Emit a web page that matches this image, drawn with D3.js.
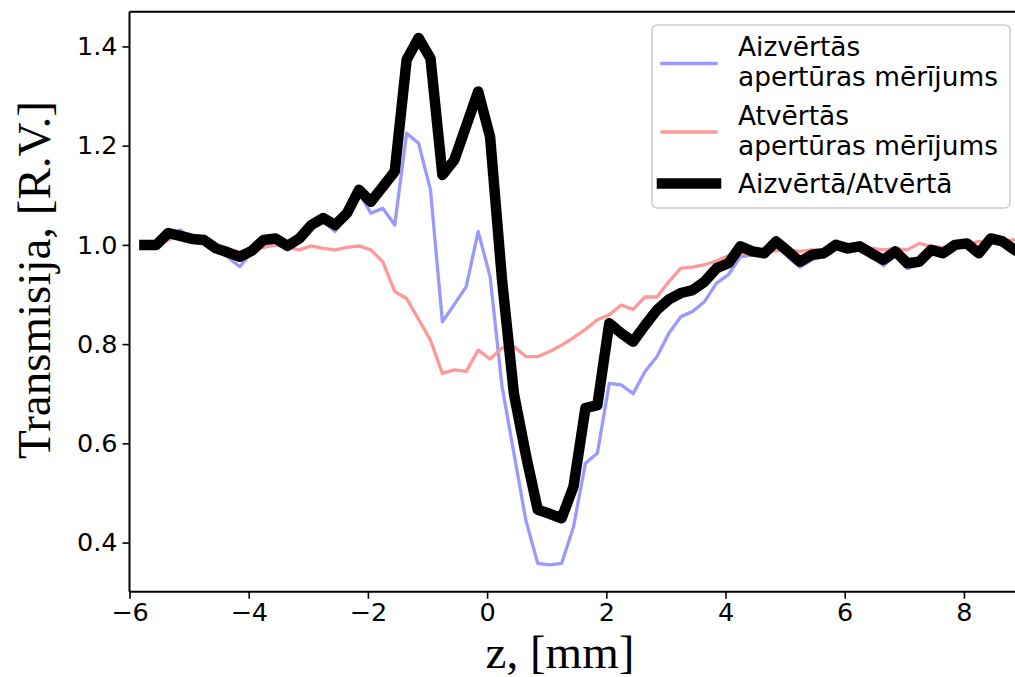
<!DOCTYPE html>
<html>
<head>
<meta charset="utf-8">
<script src="https://cdn.jsdelivr.net/npm/d3@7"></script>
<style>
  body { margin: 0; background: #fff; }
  svg { display: block; }
</style>
</head>
<body>
<svg id="chart" width="1015" height="677"></svg>
<script>
// z positions, mm
const zValues = [
  -5.75, -5.55, -5.35, -5.15, -4.95, -4.75, -4.55, -4.35, -4.15, -3.95,
  -3.75, -3.55, -3.35, -3.15, -2.95, -2.75, -2.55, -2.35, -2.15, -1.95,
  -1.75, -1.55, -1.35, -1.15, -0.95, -0.75, -0.55, -0.35, -0.15, 0.05,
  0.25, 0.45, 0.65, 0.85, 1.05, 1.25, 1.45, 1.65, 1.85, 2.05,
  2.25, 2.45, 2.65, 2.85, 3.05, 3.25, 3.45, 3.65, 3.85, 4.05,
  4.25, 4.45, 4.65, 4.85, 5.05, 5.25, 5.45, 5.65, 5.85, 6.05,
  6.25, 6.45, 6.65, 6.85, 7.05, 7.25, 7.45, 7.65, 7.85, 8.05,
  8.25, 8.45, 8.65, 8.85, 9.05
];

// closed aperture
const closedValues = [
  1.000, 1.000, 1.020, 1.030, 1.012, 1.008, 0.990, 0.975, 0.956, 0.985,
  1.008, 1.010, 0.995, 1.010, 1.035, 1.048, 1.027, 1.060, 1.105, 1.064,
  1.074, 1.040, 1.225, 1.205, 1.111, 0.845, 0.880, 0.916, 1.027, 0.936,
  0.715, 0.580, 0.445, 0.358, 0.355, 0.358, 0.432, 0.560, 0.580, 0.721,
  0.718, 0.700, 0.745, 0.775, 0.822, 0.855, 0.866, 0.886, 0.923, 0.940,
  0.976, 0.980, 0.980, 1.003, 0.975, 0.955, 0.970, 0.978, 0.995, 0.985,
  0.990, 0.978, 0.958, 0.980, 0.952, 0.960, 0.985, 0.978, 0.995, 1.000,
  0.980, 1.010, 1.005, 0.990, 0.975
];

// open aperture
const openValues = [
  1.000, 0.998, 1.010, 1.020, 1.010, 1.005, 0.995, 0.990, 0.986, 0.990,
  0.995, 1.000, 0.995, 0.990, 0.998, 0.993, 0.990, 0.995, 0.998, 0.990,
  0.966, 0.906, 0.892, 0.850, 0.808, 0.741, 0.748, 0.745, 0.788, 0.770,
  0.792, 0.795, 0.775, 0.775, 0.785, 0.798, 0.813, 0.830, 0.849, 0.859,
  0.879, 0.870, 0.895, 0.895, 0.926, 0.953, 0.955, 0.960, 0.968, 0.978,
  0.982, 0.985, 0.987, 0.988, 0.990, 0.987, 0.990, 0.990, 0.997, 0.995,
  0.996, 0.993, 0.990, 0.993, 0.990, 1.003, 0.997, 0.995, 0.998, 1.000,
  1.007, 1.003, 1.008, 1.010, 1.010
];

// closed / open ratio
const ratioValues = [
  1.000, 1.000, 1.024, 1.018, 1.012, 1.010, 0.993, 0.985, 0.976, 0.988,
  1.010, 1.013, 0.998, 1.013, 1.040, 1.054, 1.040, 1.064, 1.111, 1.087,
  1.117, 1.148, 1.373, 1.417, 1.376, 1.141, 1.171, 1.240, 1.309, 1.218,
  0.930, 0.700, 0.577, 0.466, 0.458, 0.449, 0.513, 0.671, 0.677, 0.842,
  0.822, 0.805, 0.838, 0.869, 0.890, 0.903, 0.909, 0.926, 0.953, 0.963,
  0.997, 0.987, 0.983, 1.007, 0.987, 0.966, 0.980, 0.983, 1.000, 0.993,
  0.997, 0.983, 0.970, 0.987, 0.963, 0.966, 0.990, 0.983, 1.000, 1.003,
  0.983, 1.013, 1.007, 0.990, 0.975
];

const xTicks = [-6, -4, -2, 0, 2, 4, 6, 8];
const yTicks = [0.4, 0.6, 0.8, 1.0, 1.2, 1.4];

const legendLabels = [
  ["Aizvērtās", "apertūras mērījums"],
  ["Atvērtās", "apertūras mērījums"],
  ["Aizvērtā/Atvērtā"]
];

const svg = d3.select("#chart");

const plotLeft = 129.5, plotTop = 11.7, plotRight = 1023.5, plotBottom = 591.7;

const x = d3.scaleLinear().domain([-6, 9]).range([plotLeft, plotRight]);
const y = d3.scaleLinear().domain([0.301, 1.47]).range([plotBottom, plotTop]);

const fmtMinus = d => (d < 0 ? "\u2212" + Math.abs(d) : String(d));

svg.append("defs").append("clipPath").attr("id", "plotclip")
  .append("rect")
  .attr("x", plotLeft).attr("y", plotTop)
  .attr("width", plotRight - plotLeft).attr("height", plotBottom - plotTop);

const series = [
  { values: closedValues, color: "#9999ff", width: 3.3, cap: "square" },
  { values: openValues, color: "#ff9999", width: 3.3, cap: "square" },
  { values: ratioValues, color: "#000000", width: 10.5, cap: "square" }
];

const line = d3.line()
  .x(d => x(d[0]))
  .y(d => y(d[1]));

const plot = svg.append("g").attr("clip-path", "url(#plotclip)");

series.forEach(s => {
  plot.append("path")
    .datum(zValues.map((z, i) => [z, s.values[i]]))
    .attr("fill", "none")
    .attr("stroke", s.color)
    .attr("stroke-width", s.width)
    .attr("stroke-linejoin", "round")
    .attr("stroke-linecap", s.cap)
    .attr("d", line);
});

// axes
const xAxis = svg.append("g")
  .attr("transform", `translate(0,${plotBottom})`)
  .call(d3.axisBottom(x).tickValues(xTicks).tickFormat(fmtMinus).tickSize(7).tickPadding(4));

const yAxis = svg.append("g")
  .attr("transform", `translate(${plotLeft},0)`)
  .call(d3.axisLeft(y).tickValues(yTicks).tickFormat(d3.format(".1f")).tickSize(7).tickPadding(5));

[xAxis, yAxis].forEach(g => {
  g.select(".domain").remove();
  g.selectAll(".tick line").attr("stroke", "#000").attr("stroke-width", 1.6);
  g.selectAll(".tick text")
    .attr("fill", "#000")
    .style("font-family", "'DejaVu Sans', sans-serif")
    .style("font-size", "25.5px");
});

// spines
const spine = (x1, y1, x2, y2) => svg.append("line")
  .attr("x1", x1).attr("y1", y1).attr("x2", x2).attr("y2", y2)
  .attr("stroke", "#000").attr("stroke-width", 2);
spine(plotLeft, plotTop, plotLeft, plotBottom);
spine(plotLeft, plotBottom, plotRight, plotBottom);
spine(plotLeft, plotTop, plotRight, plotTop);
spine(plotRight, plotTop, plotRight, plotBottom);

// axis labels
svg.append("text")
  .attr("x", 560).attr("y", 668)
  .attr("text-anchor", "middle")
  .style("font-family", "'Liberation Serif', 'Times New Roman', serif")
  .style("font-size", "47px")
  .text("z, [mm]");

svg.append("text")
  .attr("transform", "translate(50,280) rotate(-90)")
  .attr("text-anchor", "middle")
  .style("font-family", "'Liberation Serif', 'Times New Roman', serif")
  .style("font-size", "47px")
  .text("Transmisija, [R.V.]");

// legend
const legend = svg.append("g");
legend.append("rect")
  .attr("x", 652).attr("y", 25)
  .attr("width", 358).attr("height", 183)
  .attr("rx", 5)
  .attr("fill", "#fff").attr("fill-opacity", 0.8)
  .attr("stroke", "#cccccc").attr("stroke-width", 1.5);

const legendRows = [
  { lineY: 63.5, textY: [56, 86] },
  { lineY: 132, textY: [125, 155] },
  { lineY: 183.5, textY: [193] }
];

legendRows.forEach((r, i) => {
  const s = series[i];
  legend.append("line")
    .attr("x1", 662).attr("x2", 716)
    .attr("y1", r.lineY).attr("y2", r.lineY)
    .attr("stroke", s.color)
    .attr("stroke-width", s.width)
    .attr("stroke-linecap", s.cap);
  legendLabels[i].forEach((t, j) => {
    legend.append("text")
      .attr("x", 738).attr("y", r.textY[j])
      .style("font-family", "'DejaVu Sans', sans-serif")
      .style("font-size", "26.4px")
      .text(t);
  });
});
</script>
</body>
</html>
